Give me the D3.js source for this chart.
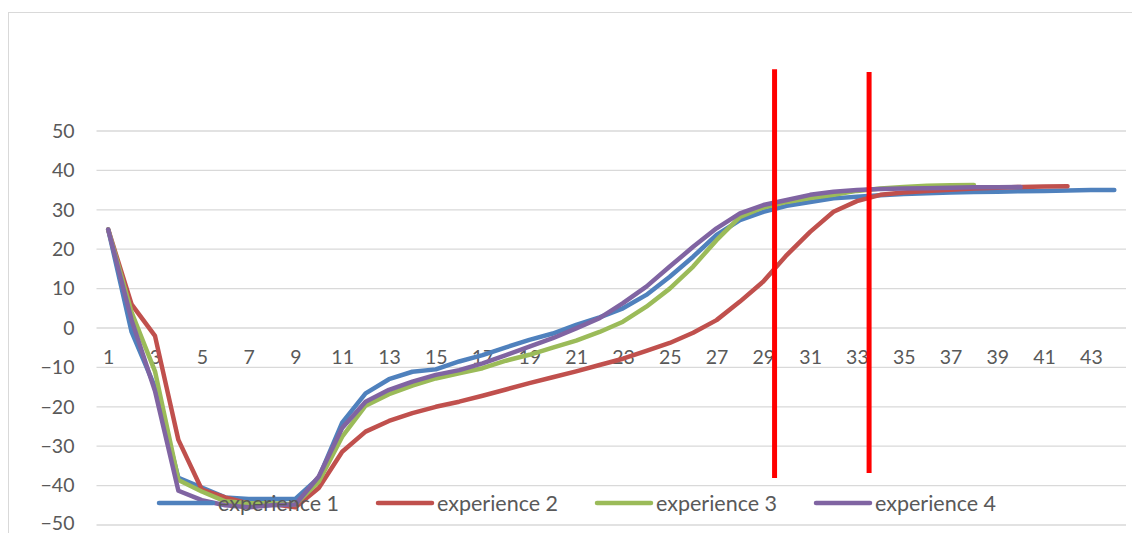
<!DOCTYPE html>
<html>
<head>
<meta charset="utf-8">
<script src="https://cdn.jsdelivr.net/npm/d3@7"></script>
<style>
  html, body { margin: 0; padding: 0; background: #fff; }
</style>
</head>
<body>
<script>
// Séries (une valeur par catégorie, à partir de 1)
const categories = d3.range(1, 45);
const exp1 = [25, -1, -15, -38, -40.5, -43, -43.4, -43.4, -43.4, -38, -24, -16.6, -13, -11.1, -10.5, -8.5,
  -6.9, -4.9, -3, -1.4, 0.8, 2.7, 5, 8.4, 13, 18.1, 23.6, 27.4, 29.5, 31, 32, 32.9, 33.3, 33.7, 34, 34.2,
  34.4, 34.5, 34.6, 34.7, 34.8, 34.9, 35, 35];
const exp2 = [25, 6, -2, -28.4, -41, -43, -44.5, -44.7, -45.5, -40.6, -31.4, -26.3, -23.6, -21.6, -20, -18.7,
  -17.2, -15.6, -14, -12.5, -11, -9.4, -7.8, -5.8, -3.8, -1.2, 2, 6.7, 11.8, 18.5, 24.4, 29.5, 32.2, 33.8,
  34.4, 34.8, 35.1, 35.4, 35.6, 35.8, 35.9, 36];
const exp3 = [25, 4, -11, -38.6, -41.5, -44, -44.5, -44.5, -44.8, -39, -27.6, -19.7, -16.8, -14.6, -12.8, -11.5,
  -10.2, -8.3, -6.8, -5, -3.2, -1, 1.6, 5.4, 10, 15.6, 22.3, 28.2, 30.6, 32, 33, 33.8, 34.8, 35.4, 35.8, 36.1,
  36.2, 36.3];
const exp4 = [25, 2, -16, -41.3, -43.7, -45, -45.5, -45, -44.8, -37.7, -25.4, -18.7, -15.7, -13.6, -11.9, -10.7,
  -9, -6.9, -4.7, -2.6, -0.1, 2.5, 6.3, 10.5, 15.6, 20.6, 25.3, 29.1, 31.2, 32.5, 33.8, 34.6, 35, 35.3, 35.4,
  35.5, 35.6, 35.7, 35.7, 35.8];
const seriesNames = ["experience 1", "experience 2", "experience 3", "experience 4"];
const seriesValues = [exp1, exp2, exp3, exp4];
const colors = ["#4F81BD", "#C0504D", "#9BBB59", "#8064A2"];
const yTicks = d3.range(-50, 51, 10);

// Traits verticaux rouges (position en catégorie, bornes en valeur)
const markerCats = [29.48, 33.52];
const markerTop = [65.7, 65];
const markerBottom = [-38.1, -36.8];

const width = 1132, height = 533;
const plot = {left: 96.5, right: 1126, top: 131, bottom: 525};

const svg = d3.select("body").append("svg")
  .attr("width", width).attr("height", height)
  .style("font-family", "Lato, Carlito, sans-serif");

// cadre de la zone de graphique
svg.append("rect").attr("x", 8.5).attr("y", 12.5)
  .attr("width", 1140).attr("height", 560)
  .attr("fill", "none").attr("stroke", "#D9D9D9").attr("stroke-width", 1);

const x = d3.scalePoint().domain(categories).range([plot.left, plot.right]).padding(0.5);
const xc = d3.scaleLinear().domain([1, 44]).range([x(1), x(44)]);
const y = d3.scaleLinear().domain([-50, 50]).range([plot.bottom, plot.top]);

// Grille + étiquettes Y
const gy = svg.append("g").attr("transform", `translate(${plot.left},0)`)
  .call(d3.axisLeft(y).tickValues(yTicks).tickSize(0).tickPadding(22));
gy.select(".domain").remove();
gy.selectAll(".tick text").attr("font-size", 19.5).attr("fill", "#595959")
  .attr("font-family", "Lato, sans-serif");
gy.selectAll(".tick text").filter(d => d === -50).attr("dy", "0.25em");
svg.append("g").selectAll("line").data(yTicks).join("line")
  .attr("x1", plot.left).attr("x2", plot.right)
  .attr("y1", d => y(d)).attr("y2", d => y(d))
  .attr("stroke", "#D9D9D9").attr("stroke-width", 1.3);

// Étiquettes X (une sur deux), placées sous l'axe à 0
const gx = svg.append("g").attr("transform", `translate(0,${y(0)})`)
  .call(d3.axisBottom(x).tickValues(categories.filter(c => c % 2 === 1)).tickSize(0).tickPadding(22));
gx.select(".domain").remove();
gx.selectAll(".tick text").attr("font-size", 19.5).attr("fill", "#595959")
  .attr("font-family", "Lato, sans-serif");

// Courbes
const line = d3.line().x((d, i) => x(i + 1)).y(d => y(d));
svg.append("g").selectAll("path").data(seriesValues).join("path")
  .attr("d", d => line(d))
  .attr("fill", "none")
  .attr("stroke", (d, i) => colors[i])
  .attr("stroke-width", 4.5)
  .attr("stroke-linejoin", "round")
  .attr("stroke-linecap", "round");

// Traits rouges
svg.append("g").selectAll("line").data(markerCats).join("line")
  .attr("x1", d => xc(d)).attr("x2", d => xc(d))
  .attr("y1", (d, i) => y(markerTop[i])).attr("y2", (d, i) => y(markerBottom[i]))
  .attr("stroke", "#FF0000").attr("stroke-width", 5);

// Légende
const leg = svg.append("g").attr("transform", "translate(159,503)");
seriesNames.forEach((name, i) => {
  const gi = leg.append("g").attr("transform", `translate(${i * 219},0)`);
  gi.append("line").attr("x1", 0).attr("x2", 54).attr("y1", 0).attr("y2", 0)
    .attr("stroke", colors[i]).attr("stroke-width", 4.5).attr("stroke-linecap", "round");
  gi.append("text").attr("x", 59).attr("y", 0).attr("dy", "0.35em")
    .attr("font-size", 21.5).attr("fill", "#595959").text(name);
});
</script>
</body>
</html>
